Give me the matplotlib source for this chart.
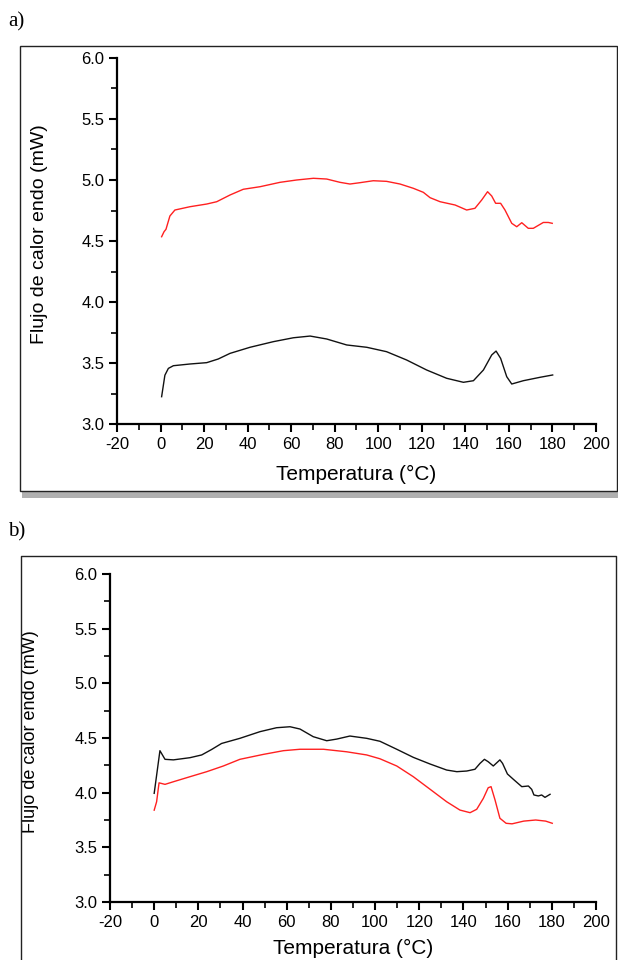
import matplotlib
matplotlib.use('Agg')
import matplotlib.pyplot as plt
from matplotlib.patches import Rectangle
from matplotlib.lines import Line2D
from matplotlib.ticker import MultipleLocator

plt.rcParams['font.family'] = ['Liberation Sans', 'DejaVu Sans']
plt.rcParams['axes.unicode_minus'] = False

# panel a) - red curve
temp_a_red = [0.5, 1.6, 2.5, 4.3, 6.6, 13.5, 21.2, 25.8, 31.9, 38, 45.7, 54.9, 62.5, 70.2, 76.3,
              82.4, 87, 91.6, 97.7, 103.8, 110, 116.1, 120.7, 123.8, 128.4, 135.3, 140.6, 144.4,
              147.5, 150.2, 152.1, 153.9, 156.2, 158.2, 161.3, 163.6, 165.9, 168.9, 171.2,
              175.8, 178.1, 179.9]
flujo_a_red = [4.535, 4.576, 4.596, 4.705, 4.754, 4.781, 4.803, 4.822, 4.877, 4.924, 4.945, 4.981, 5.0, 5.014, 5.008,
               4.981, 4.967, 4.978, 4.994, 4.989, 4.967, 4.932, 4.899, 4.855, 4.822, 4.795, 4.754, 4.768,
               4.836, 4.904, 4.869, 4.809, 4.809, 4.754, 4.645, 4.617, 4.65, 4.604, 4.604,
               4.652, 4.652, 4.645]

# panel a) - black curve
temp_a_blk = [0.5, 2, 3.6, 5.9, 13.5, 21.2, 26.5, 31.9, 41.1, 51.8, 61, 68.7, 76.3, 85.5, 94.7,
              103.8, 113, 122.2, 131.4, 139.1, 143.7, 148.3, 152.1, 154.1, 156.2, 159, 161.3,
              166.6, 174.3, 180.1]
flujo_a_blk = [3.224, 3.40, 3.456, 3.478, 3.492, 3.503, 3.533, 3.579, 3.629, 3.675, 3.707, 3.721, 3.697, 3.648, 3.629,
               3.593, 3.525, 3.443, 3.375, 3.342, 3.355, 3.443, 3.566, 3.598, 3.538, 3.388, 3.328,
               3.355, 3.383, 3.402]

# panel b) - black curve
temp_b_blk = [0, 2.6, 4.9, 8.7, 16.2, 21.5, 26, 30.5, 38.8, 47.9, 55.4, 61.5, 66, 72, 78.1, 82.6,
              88.6, 96.2, 102.2, 109.8, 117.3, 124.9, 132.4, 137, 141.5, 145.2, 147.5, 149.5,
              151.2, 153.5, 156.5, 157.7, 159.9, 162.6, 166.4, 169.4, 170.9, 171.9, 173.9,
              175.4, 176.9, 179.2]
flujo_b_blk = [3.994, 4.384, 4.305, 4.30, 4.32, 4.345, 4.395, 4.45, 4.497, 4.558, 4.594, 4.603, 4.582, 4.512, 4.475, 4.49,
               4.518, 4.497, 4.470, 4.397, 4.323, 4.262, 4.207, 4.192, 4.198, 4.214, 4.268, 4.305,
               4.283, 4.244, 4.30, 4.268, 4.171, 4.122, 4.055, 4.061, 4.03, 3.979, 3.97,
               3.979, 3.957, 3.985]

# panel b) - red curve
temp_b_red = [0, 1.1, 2.2, 4.9, 8.7, 16.2, 23.8, 31.3, 38.8, 49.4, 58.5, 66, 76.6, 87.1, 96.2,
              102.2, 109.8, 117.3, 124.9, 132.4, 138.4, 143, 146, 149, 151.2, 152.5, 154.3,
              156.5, 159.3, 162, 167.3, 172.7, 177.2, 180.2]
flujo_b_red = [3.84, 3.917, 4.09, 4.076, 4.10, 4.146, 4.192, 4.244, 4.305, 4.35, 4.384, 4.397, 4.397, 4.374, 4.345,
               4.31, 4.244, 4.146, 4.031, 3.917, 3.841, 3.817, 3.848, 3.948, 4.045, 4.055, 3.933,
               3.766, 3.72, 3.715, 3.74, 3.75, 3.74, 3.72]

fig = plt.figure(figsize=(6.18, 9.6), dpi=100)

# frames around both panels (panel a has a drop shadow)
fig.patches.append(Rectangle((0.036, 0.481), 0.97, 0.4635, transform=fig.transFigure,
                             facecolor='#b0b0b0', edgecolor='none', zorder=0))
fig.patches.append(Rectangle((0.0324, 0.4885), 0.966, 0.4635, transform=fig.transFigure,
                             facecolor='white', edgecolor='#222222', linewidth=1.0, zorder=1))
fig.lines.append(Line2D([0.034, 0.034, 0.997, 0.997], [-0.01, 0.4208, 0.4208, -0.01],
                        transform=fig.transFigure, color='#222222', linewidth=1.0))

fig.text(0.013, 0.977, 'a)', family='Liberation Serif', fontsize=15, va='center')
fig.text(0.013, 0.446, 'b)', family='Liberation Serif', fontsize=15, va='center')


def style_axes(ax, lab_x, lab_y, lab_size):
    ax.set_xlim(-20, 200)
    ax.set_ylim(3.0, 6.0)
    ax.xaxis.set_major_locator(MultipleLocator(20))
    ax.xaxis.set_minor_locator(MultipleLocator(10))
    ax.yaxis.set_major_locator(MultipleLocator(0.5))
    ax.yaxis.set_minor_locator(MultipleLocator(0.25))
    ax.yaxis.set_major_formatter(plt.FormatStrFormatter('%.1f'))
    ax.spines['top'].set_visible(False)
    ax.spines['right'].set_visible(False)
    ax.spines['left'].set_linewidth(1.6)
    ax.spines['bottom'].set_linewidth(1.6)
    ax.tick_params(which='major', direction='out', length=6, width=1.5, labelsize=12, pad=3)
    ax.tick_params(which='minor', direction='out', length=4, width=1.2)
    ax.set_xlabel('Temperatura (°C)', fontsize=15)
    ax.set_ylabel('Flujo de calor endo (mW)', fontsize=lab_size)
    ax.xaxis.set_label_coords(0.5, lab_x)
    ax.yaxis.set_label_coords(lab_y, 0.52)
    ax.patch.set_alpha(0)


ax1 = fig.add_axes([0.1893, 0.5583, 0.7751, 0.3813], zorder=2)
ax1.plot(temp_a_red, flujo_a_red, color='#ff2020', linewidth=1.0)
ax1.plot(temp_a_blk, flujo_a_blk, color='#111111', linewidth=1.0)
style_axes(ax1, -0.112, -0.144, 14)

ax2 = fig.add_axes([0.178, 0.0604, 0.7864, 0.3417], zorder=2)
ax2.plot(temp_b_blk, flujo_b_blk, color='#111111', linewidth=1.0)
ax2.plot(temp_b_red, flujo_b_red, color='#ff2020', linewidth=1.0)
style_axes(ax2, -0.113, -0.146, 13)

fig.savefig('out.png', dpi=100)
